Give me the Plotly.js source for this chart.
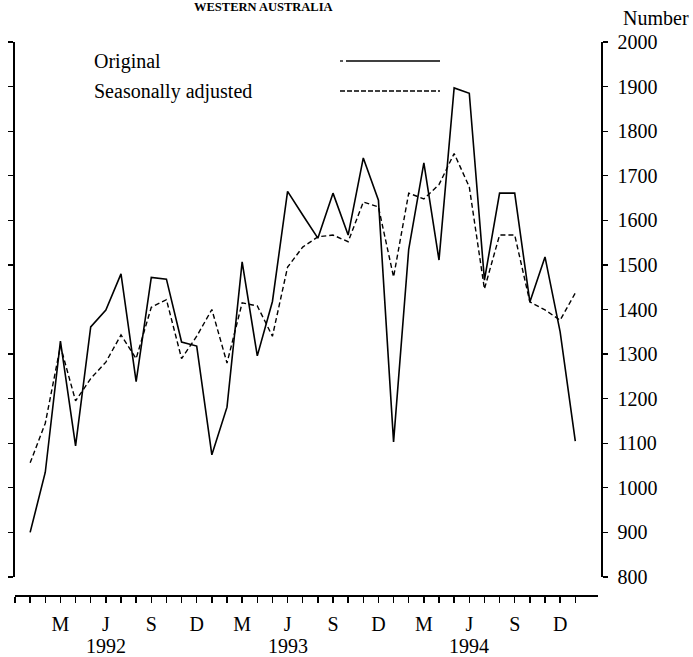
<!DOCTYPE html>
<html>
<head>
<meta charset="utf-8">
<script src="https://cdn.plot.ly/plotly-3.0.1.min.js"></script>
<style>html,body{margin:0;padding:0;background:#fff;}#chart{width:693px;height:657px;}</style>
</head>
<body>
<div id="chart"></div>
<script>
// Monthly periods, Jan 1992 .. Jan 1995
const months = ['Jan 1992','Feb 1992','Mar 1992','Apr 1992','May 1992','Jun 1992','Jul 1992','Aug 1992','Sep 1992','Oct 1992','Nov 1992','Dec 1992',
                'Jan 1993','Feb 1993','Mar 1993','Apr 1993','May 1993','Jun 1993','Jul 1993','Aug 1993','Sep 1993','Oct 1993','Nov 1993','Dec 1993',
                'Jan 1994','Feb 1994','Mar 1994','Apr 1994','May 1994','Jun 1994','Jul 1994','Aug 1994','Sep 1994','Oct 1994','Nov 1994','Dec 1994',
                'Jan 1995'];
const original = [900, 1035, 1329, 1094, 1361, 1399, 1480, 1238, 1472, 1468, 1327, 1318,
                  1074, 1181, 1507, 1296, 1418, 1665, 1612, 1560, 1661, 1567, 1740, 1645,
                  1103, 1535, 1729, 1511, 1897, 1885, 1466, 1661, 1661, 1417, 1518, 1350,
                  1105];
const seasonal = [1056, 1145, 1318, 1195, 1245, 1282, 1343, 1290, 1405, 1422, 1290, 1340,
                  1400, 1280, 1415, 1408, 1340, 1495, 1540, 1563, 1567, 1552, 1641, 1630,
                  1473, 1661, 1648, 1680, 1750, 1675, 1446, 1567, 1567, 1417, 1399, 1376,
                  1437];
const monthLetters = {Mar:'M', Jun:'J', Sep:'S', Dec:'D'};
const yearLabels = ['1992','1993','1994'];
const yTicks = [800, 900, 1000, 1100, 1200, 1300, 1400, 1500, 1600, 1700, 1800, 1900, 2000];
const legendNames = ['Original', 'Seasonally adjusted'];
const titleText = 'WESTERN AUSTRALIA';
const unitText = 'Number';

const xIdx = months.map((m, i) => i);
const tickVals = [-1].concat(xIdx);
const tickText = [''].concat(months.map(m => monthLetters[m.slice(0,3)] || ''));

const FONT = 'Liberation Serif, Times New Roman, serif';
const L = 13, R = 92, T = 42, B = 62, W = 693, H = 657;
const pw = W - L - R, ph = H - T - B;
const px = x => (x - L) / pw;
const py = y => (H - B - y) / ph;

const traces = [
  {x: xIdx, y: original, type: 'scatter', mode: 'lines', name: legendNames[0], yaxis: 'y2',
   line: {color: '#000', width: 1.6}, showlegend: false},
  {x: xIdx, y: seasonal, type: 'scatter', mode: 'lines', name: legendNames[1], yaxis: 'y',
   line: {color: '#000', width: 1.4, dash: '5px,3px'}, showlegend: false}
];

const annotations = [
  {text: '<b>' + titleText + '</b>', xref: 'paper', yref: 'paper', x: px(263), y: py(7), xanchor: 'center', yanchor: 'middle',
   showarrow: false, font: {family: FONT, size: 12.5, color: '#000'}},
  {text: unitText, xref: 'paper', yref: 'paper', x: px(621), y: py(18), xanchor: 'left', yanchor: 'middle',
   showarrow: false, font: {family: FONT, size: 20, color: '#000'}},
  {text: legendNames[0], xref: 'paper', yref: 'paper', x: px(92), y: py(61), xanchor: 'left', yanchor: 'middle',
   showarrow: false, font: {family: FONT, size: 20, color: '#000'}},
  {text: legendNames[1], xref: 'paper', yref: 'paper', x: px(92), y: py(91), xanchor: 'left', yanchor: 'middle',
   showarrow: false, font: {family: FONT, size: 20, color: '#000'}}
];
yearLabels.forEach(yr => {
  annotations.push({text: yr, xref: 'x', yref: 'paper', x: months.indexOf('Jun ' + yr), y: py(646),
    xanchor: 'center', yanchor: 'middle', showarrow: false, font: {family: FONT, size: 20, color: '#000'}});
});

const shapes = [
  {type: 'line', xref: 'paper', yref: 'paper', x0: px(346), x1: px(440), y0: py(61), y1: py(61),
   line: {color: '#000', width: 1.3}},
  {type: 'line', xref: 'paper', yref: 'paper', x0: px(340), x1: px(343), y0: py(61), y1: py(61),
   line: {color: '#000', width: 1.3}},
  {type: 'line', xref: 'paper', yref: 'paper', x0: px(340), x1: px(440), y0: py(91), y1: py(91),
   line: {color: '#000', width: 1.3, dash: '5px,2px'}}
];

const layout = {
  width: W, height: H,
  margin: {l: L, r: R, t: T, b: B, pad: 0},
  paper_bgcolor: '#fff', plot_bgcolor: '#fff',
  showlegend: false,
  font: {family: FONT, size: 20, color: '#000'},
  xaxis: {domain: [px(15), px(598)], range: [-1, 37.5], anchor: 'free', position: 0,
    showline: true, linecolor: '#000', linewidth: 1.5, ticks: 'outside', ticklen: 6, tickwidth: 1.3, tickcolor: '#000',
    tickmode: 'array', tickvals: tickVals, ticktext: tickText, showgrid: false, zeroline: false,
    tickfont: {family: FONT, size: 20, color: '#000'}, ticklabelstandoff: 4},
  yaxis: {domain: [py(577), 1], range: [800, 2000], anchor: 'free', position: 0, side: 'left',
    showline: true, linecolor: '#000', linewidth: 1.5, ticks: 'outside', ticklen: 5, tickwidth: 1.3, tickcolor: '#000',
    tickmode: 'array', tickvals: yTicks, showticklabels: false, showgrid: false, zeroline: false},
  yaxis2: {overlaying: 'y', range: [800, 2000], anchor: 'free', position: 1, side: 'right',
    showline: true, linecolor: '#000', linewidth: 1.5, ticks: 'outside', ticklen: 5, tickwidth: 1.3, tickcolor: '#000',
    tickmode: 'array', tickvals: yTicks, ticktext: yTicks.map(String), showgrid: false, zeroline: false,
    tickfont: {family: FONT, size: 20, color: '#000'}, ticklabelstandoff: 6},
  annotations: annotations,
  shapes: shapes
};

Plotly.newPlot('chart', traces, layout, {staticPlot: true, displayModeBar: false});
</script>
</body>
</html>
